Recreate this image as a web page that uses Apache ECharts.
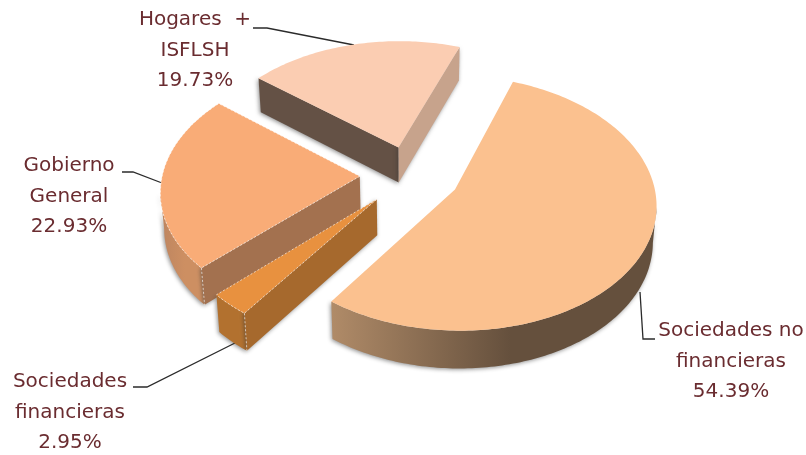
<!DOCTYPE html>
<html>
<head>
<meta charset="utf-8">
<script src="https://cdn.jsdelivr.net/npm/echarts@6/dist/echarts.min.js"></script>
<style>html,body{margin:0;background:#fff}#chart{width:806px;height:455px}</style>
</head>
<body>
<div id="chart"></div>
<script>
// Composition of the total by institutional sector, clockwise from the first slice
const sectorNames = [['Sociedades no', 'financieras'], ['Sociedades', 'financieras'], ['Gobierno', 'General'], ['Hogares  +', 'ISFLSH']];
const sectorShares = [54.39, 2.95, 22.93, 19.73];
const paintOrder = [3, 2, 1, 0];

const topColors = ['#FBC18F', '#E8913F', '#F9AC77', '#FBCDB2'];
const startWallColors = ['#B08B68', '#A6692D', '#A3714F', '#645145'];
const endWallColors = ['#B08B68', '#A6692D', '#A3714F', '#C7A38C'];
const arcWallStops = [['#B08B68', '#65503D', '#65503D'], ['#B2712F', '#B2712F', '#B2712F'], ['#BD8560', '#CD8F62', '#CD8F62'], ['#645145', '#645145', '#645145']];
const dottedEdges = [false, true, true, false];
const labelCenters = [[731, 331], [70, 382], [69, 166], [195, 20]];
const leaderPaths = [
  [[655, 339], [643, 339], [640, 292]],
  [[133, 387], [147, 387], [235, 343]],
  [[122, 172], [133, 172], [162, 183]],
  [[253, 28], [267, 28], [354, 45]]
];

// Perspective view of the pie's plane; the underside converges slightly
const view = { cx: 410.83, cy: 174.97, sx: 197.38, sy: 122.98, persp: 0.1055, firstAngle: 19.97, depth: 35.5, underside: 0.985 };
const explode = [0.25, 0.2573, 0.2586, 0.2379];
const LINE_HEIGHT = 30.6;
const LABEL_FONT = '20px "DejaVu Sans"';
const LABEL_COLOR = '#6A2C30';

function project(x, y, lowered) {
  const w = 1 + view.persp * y;
  const dx = view.sx * x / w;
  return [
    view.cx + dx * (lowered ? view.underside : 1),
    view.cy - view.sy * y / w + (lowered ? view.depth / Math.sqrt(w) : 0)
  ];
}

function sliceGeometry(index) {
  let from = view.firstAngle;
  for (let k = 0; k < index; k++) from += sectorShares[k] * 3.6;
  const to = from + sectorShares[index] * 3.6;
  const mid = (from + to) / 2 * Math.PI / 180;
  const ox = explode[index] * Math.sin(mid);
  const oy = explode[index] * Math.cos(mid);
  const arc = lowered => {
    const pts = [];
    const steps = Math.ceil(to - from);
    for (let s = 0; s <= steps; s++) {
      const t = (from + (to - from) * s / steps) * Math.PI / 180;
      pts.push(project(ox + Math.sin(t), oy + Math.cos(t), lowered));
    }
    return pts;
  };
  return { apexTop: project(ox, oy, false), apexLow: project(ox, oy, true), arcTop: arc(false), arcLow: arc(true) };
}

function polygon(points, fill, extra) {
  return { type: 'polygon', shape: { points }, style: Object.assign({ fill }, extra || {}) };
}

// Only the stretch of rim running right-to-left faces the viewer
function frontRim(top, low) {
  const keep = [];
  for (let s = 0; s < top.length - 1; s++) {
    if (top[s + 1][0] < top[s][0]) keep.push(s, s + 1);
  }
  if (!keep.length) return null;
  const a = keep[0], b = keep[keep.length - 1] + 1;
  return top.slice(a, b).concat(low.slice(a, b).reverse());
}

function renderSlice(params, api) {
  const i = api.value(0);
  const g = sliceGeometry(i);
  const top = g.arcTop, low = g.arcLow, last = top.length - 1;
  const soft = { shadowColor: 'rgba(50,50,50,0.55)', shadowBlur: 4, shadowOffsetX: -1, shadowOffsetY: 1 };
  const stops = arcWallStops[i];
  const arcFill = new echarts.graphic.LinearGradient(0, 0, 1, 0, [
    { offset: 0, color: stops[0] }, { offset: 0.55, color: stops[1] }, { offset: 1, color: stops[2] }
  ]);
  const children = [];
  const rim = frontRim(top, low);
  if (rim) children.push(polygon(rim, arcFill, soft));
  // A straight cut shows only when its outward side faces down the screen
  if (top[0][0] < g.apexTop[0]) {
    children.push(polygon([g.apexTop, top[0], low[0], g.apexLow], startWallColors[i], soft));
  }
  if (top[last][0] > g.apexTop[0]) {
    children.push(polygon([g.apexTop, top[last], low[last], g.apexLow], endWallColors[i], soft));
  }
  children.push(polygon([g.apexTop].concat(top), topColors[i]));
  if (dottedEdges[i]) {
    const dots = { fill: null, stroke: 'rgba(255,255,255,0.6)', lineWidth: 1, lineDash: [2, 2] };
    children.push({ type: 'polyline', shape: { points: [g.apexTop].concat(top, [g.apexTop]) }, style: dots });
    children.push({ type: 'polyline', shape: { points: [top[0], low[0]] }, style: dots });
  }
  return { type: 'group', children };
}

function renderLabel(params, api) {
  const i = api.value(0);
  const lines = sectorNames[i].concat(sectorShares[i].toFixed(2) + '%');
  const children = [{
    type: 'polyline',
    shape: { points: leaderPaths[i] },
    style: { stroke: '#2B2B2B', lineWidth: 1.3, fill: null }
  }];
  lines.forEach((line, n) => {
    children.push({
      type: 'text',
      style: {
        text: line,
        x: labelCenters[i][0],
        y: labelCenters[i][1] + n * LINE_HEIGHT,
        align: 'center',
        verticalAlign: 'middle',
        font: LABEL_FONT,
        fill: LABEL_COLOR
      }
    });
  });
  return { type: 'group', children };
}

const chart = echarts.init(document.getElementById('chart'), null, { renderer: 'canvas' });
chart.setOption({
  animation: false,
  backgroundColor: '#fff',
  series: [
    { type: 'custom', coordinateSystem: 'none', z: 1, silent: true, renderItem: renderLabel, data: paintOrder.map(i => [i]) },
    { type: 'custom', coordinateSystem: 'none', z: 2, silent: true, renderItem: renderSlice, data: paintOrder.map(i => [i, sectorShares[i]]) }
  ]
});
</script>
</body>
</html>
